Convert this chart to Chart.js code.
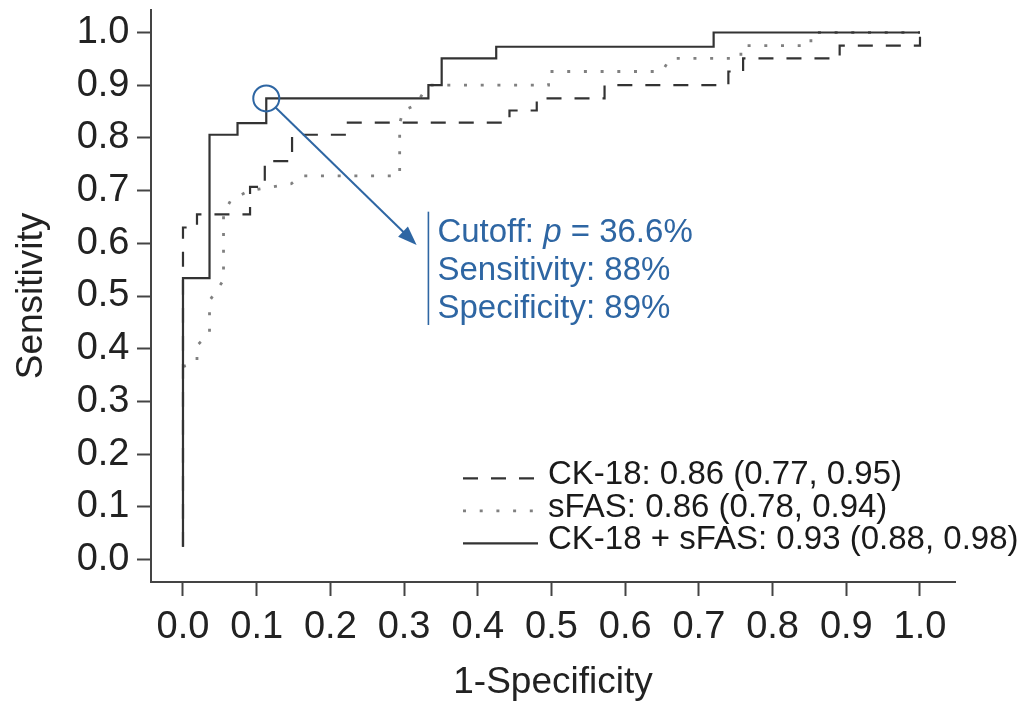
<!DOCTYPE html>
<html>
<head>
<meta charset="utf-8">
<script src="https://cdn.jsdelivr.net/npm/chart.js@4"></script>
<style>
  html, body { margin: 0; padding: 0; background: #fff; }
</style>
</head>
<body>
<canvas id="myChart" width="1035" height="701"></canvas>
<script>
// ROC vertices (1-specificity, sensitivity)
const ck18Fpr = [0, 0, 0.019, 0.019, 0.091, 0.091, 0.111, 0.111, 0.148, 0.148, 0.222, 0.222, 0.443, 0.443, 0.480, 0.480, 0.572, 0.572, 0.740, 0.740, 0.760, 0.760, 0.891, 0.891, 1.0, 1.0];
const ck18Tpr = [0.024, 0.630, 0.630, 0.655, 0.655, 0.707, 0.707, 0.756, 0.756, 0.806, 0.806, 0.829, 0.829, 0.852, 0.852, 0.875, 0.875, 0.900, 0.900, 0.926, 0.926, 0.951, 0.951, 0.975, 0.975, 1.0];

const sfasFpr = [0, 0.019, 0.019, 0.036, 0.036, 0.055, 0.055, 0.065, 0.090, 0.147, 0.160, 0.294, 0.294, 0.299, 0.315, 0.333, 0.496, 0.496, 0.650, 0.661, 0.757, 0.757, 0.852, 0.852, 1.0];
const sfasTpr = [0.366, 0.375, 0.406, 0.429, 0.491, 0.530, 0.657, 0.682, 0.700, 0.713, 0.728, 0.728, 0.828, 0.852, 0.862, 0.900, 0.900, 0.926, 0.926, 0.951, 0.951, 0.975, 0.975, 1.0, 1.0];

const comboFpr = [0, 0, 0.036, 0.036, 0.074, 0.074, 0.113, 0.113, 0.333, 0.333, 0.351, 0.351, 0.425, 0.425, 0.720, 0.720, 1.0];
const comboTpr = [0.024, 0.534, 0.534, 0.806, 0.806, 0.828, 0.828, 0.875, 0.875, 0.900, 0.900, 0.951, 0.951, 0.973, 0.973, 1.0, 1.0];

const legendLabels = ["CK-18: 0.86 (0.77, 0.95)", "sFAS: 0.86 (0.78, 0.94)", "CK-18 + sFAS: 0.93 (0.88, 0.98)"];
const tickValues = [0, 0.1, 0.2, 0.3, 0.4, 0.5, 0.6, 0.7, 0.8, 0.9, 1.0];

// optimal cutoff on the combined curve
const cutoffPoint = [0.113, 0.875];
const arrowTip = [0.317, 0.597];
const noteBar = { x: 0.333, top: 0.660, bottom: 0.445 };
const noteLines = ["Sensitivity: 88%", "Specificity: 89%"];

const FONT = "'Liberation Sans', Arial, sans-serif";
const BLUE = "#2e66a3";

function toPoints(xs, ys) {
  return xs.map((v, i) => ({ x: v, y: ys[i] }));
}

const extras = {
  id: "extras",
  afterDatasetsDraw(chart) {
    const ctx = chart.ctx;
    const sx = chart.scales.x;
    const sy = chart.scales.y;
    const area = chart.chartArea;
    ctx.save();

    // circle on the cutoff point
    const cx = sx.getPixelForValue(cutoffPoint[0]);
    const cy = sy.getPixelForValue(cutoffPoint[1]);
    const r = 13;
    ctx.strokeStyle = BLUE;
    ctx.fillStyle = BLUE;
    ctx.lineWidth = 2;
    ctx.setLineDash([]);
    ctx.beginPath();
    ctx.arc(cx, cy, r, 0, Math.PI * 2);
    ctx.stroke();

    // arrow
    const tx = sx.getPixelForValue(arrowTip[0]);
    const ty = sy.getPixelForValue(arrowTip[1]);
    const ang = Math.atan2(ty - cy, tx - cx);
    const head = 19;
    ctx.beginPath();
    ctx.moveTo(cx + Math.cos(ang) * r, cy + Math.sin(ang) * r);
    ctx.lineTo(tx - Math.cos(ang) * head * 0.8, ty - Math.sin(ang) * head * 0.8);
    ctx.stroke();
    ctx.beginPath();
    ctx.moveTo(tx, ty);
    ctx.lineTo(tx - head * Math.cos(ang) + 7 * Math.sin(ang), ty - head * Math.sin(ang) - 7 * Math.cos(ang));
    ctx.lineTo(tx - head * Math.cos(ang) - 7 * Math.sin(ang), ty - head * Math.sin(ang) + 7 * Math.cos(ang));
    ctx.closePath();
    ctx.fill();

    // note bar and text
    const bx = sx.getPixelForValue(noteBar.x);
    const bTop = sy.getPixelForValue(noteBar.top);
    const bBot = sy.getPixelForValue(noteBar.bottom);
    ctx.lineWidth = 1.6;
    ctx.beginPath();
    ctx.moveTo(bx, bTop);
    ctx.lineTo(bx, bBot);
    ctx.stroke();

    ctx.textBaseline = "alphabetic";
    ctx.textAlign = "left";
    let tx0 = bx + 9;
    let base = bTop + 30;
    ctx.font = "33px " + FONT;
    ctx.fillText("Cutoff: ", tx0, base);
    let w = ctx.measureText("Cutoff: ").width;
    ctx.font = "italic 33px " + FONT;
    ctx.fillText("p", tx0 + w, base);
    w += ctx.measureText("p").width;
    ctx.font = "33px " + FONT;
    ctx.fillText(" = 36.6%", tx0 + w, base);
    noteLines.forEach((t, i) => {
      ctx.fillText(t, tx0, base + 38.3 * (i + 1));
    });

    // legend
    const lx = area.left + 312;
    const rows = [area.bottom - 103.7, area.bottom - 71.2, area.bottom - 38.7];
    ctx.font = "33px " + FONT;
    ctx.fillStyle = "#1a1a1a";
    chart.data.datasets.forEach((ds, i) => {
      ctx.strokeStyle = ds.borderColor;
      ctx.lineWidth = ds.borderWidth;
      ctx.setLineDash(ds.borderDash || []);
      ctx.beginPath();
      ctx.moveTo(lx, rows[i]);
      ctx.lineTo(lx + 75, rows[i]);
      ctx.stroke();
      ctx.fillText(legendLabels[i], lx + 85, rows[i] + 6);
    });
    ctx.restore();
  }
};

const ctx = document.getElementById("myChart").getContext("2d");
const myChart = new Chart(ctx, {
  type: "scatter",
  data: {
    datasets: [
      {
        label: legendLabels[0],
        data: toPoints(ck18Fpr, ck18Tpr),
        showLine: true,
        borderColor: "#333",
        borderWidth: 2.2,
        borderDash: [15, 13],
        pointRadius: 0,
        order: 1,
      },
      {
        label: legendLabels[1],
        data: toPoints(sfasFpr, sfasTpr),
        showLine: true,
        borderColor: "#808080",
        borderWidth: 2.8,
        borderDash: [3, 13.7],
        pointRadius: 0,
        order: 2,
      },
      {
        label: legendLabels[2],
        data: toPoints(comboFpr, comboTpr),
        showLine: true,
        borderColor: "#333",
        borderWidth: 2.2,
        pointRadius: 0,
        order: 0,
      },
    ],
  },
  options: {
    responsive: false,
    animation: false,
    layout: { autoPadding: false, padding: { top: 10, right: 80, bottom: 0, left: 0 } },
    plugins: { legend: { display: false }, tooltip: { enabled: false } },
    scales: {
      x: {
        type: "linear",
        min: -0.0434,
        max: 1.0475,
        afterBuildTicks: (s) => { s.ticks = tickValues.map((v) => ({ value: v })); },
        afterFit: (s) => { s.height = 119; s.paddingLeft = 0; s.paddingRight = 0; },
        grid: { drawOnChartArea: false, drawTicks: true, tickLength: 14, tickColor: "#444", tickWidth: 2 },
        border: { display: true, color: "#444", width: 2 },
        ticks: {
          padding: 9,
          maxRotation: 0,
          autoSkip: false,
          color: "#222",
          font: { family: FONT, size: 38 },
          callback: (v) => v.toFixed(1),
        },
        title: {
          display: true,
          text: "1-Specificity",
          color: "#222",
          font: { family: FONT, size: 37, lineHeight: 1 },
          padding: { top: 0, bottom: 0 },
        },
      },
      y: {
        type: "linear",
        min: -0.0427,
        max: 1.0427,
        afterBuildTicks: (s) => { s.ticks = tickValues.map((v) => ({ value: v })); },
        afterFit: (s) => { s.width = 151; s.paddingTop = 0; s.paddingBottom = 0; },
        grid: { drawOnChartArea: false, drawTicks: true, tickLength: 14, tickColor: "#444", tickWidth: 2 },
        border: { display: true, color: "#444", width: 2 },
        ticks: {
          padding: 7.5,
          autoSkip: false,
          color: "#222",
          font: { family: FONT, size: 38 },
          callback: (v) => v.toFixed(1),
        },
        title: {
          display: true,
          text: "Sensitivity",
          color: "#222",
          font: { family: FONT, size: 37, lineHeight: 1 },
          padding: { top: 13.5, bottom: 0 },
        },
      },
    },
  },
  plugins: [extras],
});
</script>
</body>
</html>
